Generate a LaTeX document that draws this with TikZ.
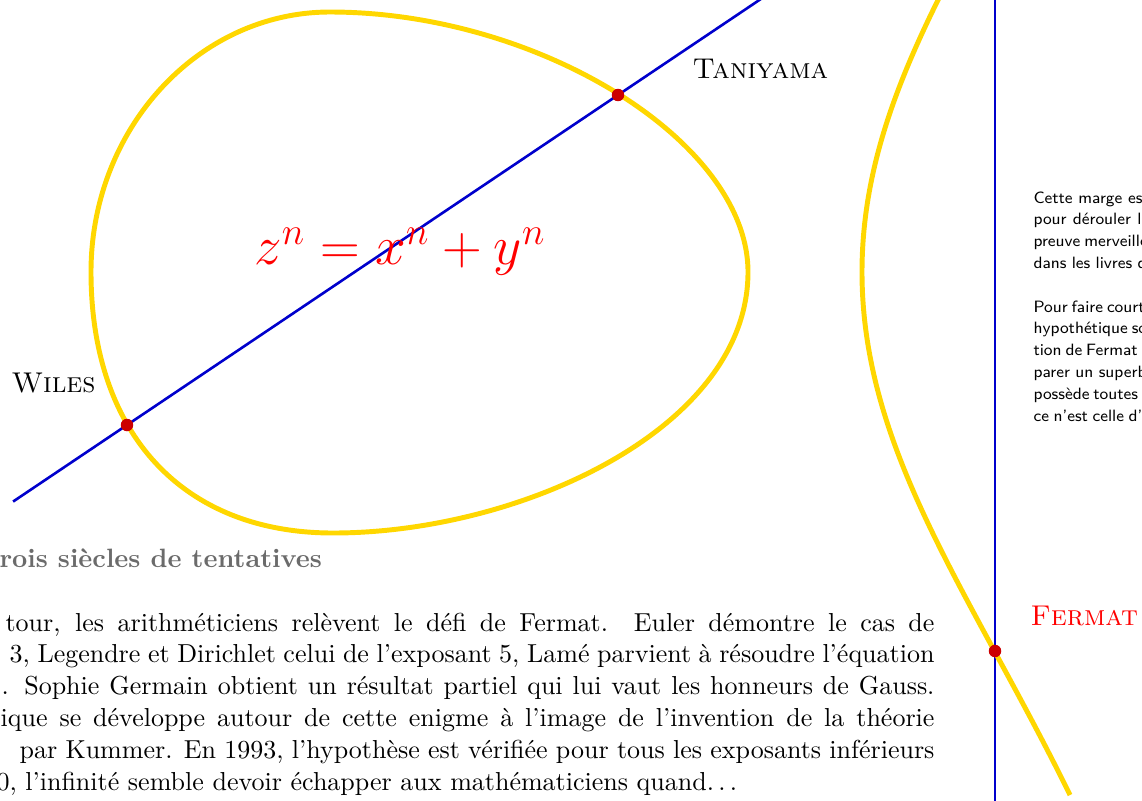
\documentclass[tikz,border=0pt]{standalone}
\usepackage{amsmath,amsfonts,amssymb}
\usepackage{tikz}
\usepackage{xcolor}
\usetikzlibrary{calc}

\definecolor{curvegold}{RGB}{255,215,0}
\definecolor{lineblue}{RGB}{0,0,204}
\definecolor{dotred}{RGB}{204,0,0}

\begin{document}
\begin{tikzpicture}[
    x=0.013517cm, y=-0.013517cm,
    curve/.style={draw=curvegold, line width=1.9pt},
    secant/.style={draw=lineblue, line width=1pt},
    hit/.style={circle, fill=dotred, inner sep=0pt, minimum size=4.8pt},
    who/.style={inner sep=0pt, anchor=base west, font=\fontsize{11}{13}\selectfont\scshape},
    body/.style={inner sep=0pt, anchor=base east, font=\fontsize{10}{12.2}\selectfont},
    marge/.style={inner sep=0pt, anchor=base west, font=\fontsize{6.3}{8.4}\selectfont\sffamily}
  ]
  \useasboundingbox (0,0) rectangle (1142,800);
  \clip (0,0) rectangle (1142,800);

  % points of the curve
  \coordinate (w) at (127,425);
  \coordinate (t) at (618,95);
  \coordinate (f) at (995,651);
  \coordinate (vtop) at (995,-5);
  \coordinate (vbot) at (995,805);

  % the two lines
  \draw[secant] ($(w)!-0.232!(t)$) -- ($(w)!1.4!(t)$);
  \draw[secant] (vtop) -- (vbot);

  % oval and branch
  \draw[curve] (91,272) .. controls (91,129) and (198,12) .. (330,12)
    .. controls (539,12) and (748,142) .. (748,272)
    .. controls (748,428.6) and (520,533) .. (333,533)
    .. controls (183,533) and (91,433.8) .. (91,272) -- cycle;
  \draw[curve] (1070,-251) .. controls (972,-51) and (862,92) .. (862,272)
    .. controls (862,452) and (972,595) .. (1070,795);

  \node[hit] (wiles) at (w) {};
  \node[hit] (taniyama) at (t) {};
  \node[hit] (fermat) at (f) {};

  % labels
  \node[who] (lt) at (692,78) {Taniyama};
  \node[who] (lw) at (11,392) {Wiles};
  \node[who, text=red] (lf) at (1030,625) {Fermat};
  \node[anchor=base, inner sep=0pt, text=red] (eq) at (400,264)
    {\scalebox{1.02}{\huge$z^n = x^n + y^n$}};

  % text below
  \node[inner sep=0pt, anchor=base west, text=black!58,
        font=\fontsize{10.2}{12}\selectfont\bfseries] (head) at (-1,567)
    {rois siècles de tentatives};
  \node[body] (p1) at (935,631)
    {\makebox[357.3pt][s]{tour, les arithméticiens relèvent le défi de Fermat.  Euler démontre le cas de}};
  \node[body] (p2) at (935,662.8)
    {\makebox[355.8pt][s]{3, Legendre et Dirichlet celui de l'exposant 5, Lamé parvient à résoudre l'équation}};
  \node[body] (p3) at (935,694.6)
    {\makebox[358.8pt][s]{. Sophie Germain obtient un résultat partiel qui lui vaut les honneurs de Gauss.}};
  \node[body] (p4) at (935,726.4)
    {\makebox[359.2pt][s]{ique se développe autour de cette enigme à l'image de l'invention de la théorie}};
  \node[body] (p5) at (935,758.2)
    {\makebox[351.9pt][s]{par Kummer. En 1993, l'hypothèse est vérifiée pour tous les exposants inférieurs}};
  \node[body, anchor=base west] (p6) at (-4,790)
    {0, l'infinité semble devoir échapper aux mathématiciens quand.\,.\,.};

  % the margin
  \node[marge] (m1) at (1033,203) {\makebox[41.9pt][s]{Cette marge es}};
  \node[marge] (m2) at (1033,224.8) {\makebox[41.5pt][s]{pour dérouler l}};
  \node[marge] (m3) at (1033,246.6) {\makebox[42.7pt][s]{preuve merveille}};
  \node[marge] (m4) at (1033,268.4) {\makebox[43.5pt][s]{dans les livres d}};
  \node[marge] (m5) at (1033,312) {\makebox[35pt][s]{Pour faire court}};
  \node[marge] (m6) at (1033,333.8) {\makebox[42.3pt][s]{hypothétique so}};
  \node[marge] (m7) at (1033,355.6) {\makebox[43.8pt][s]{tion de Fermat p}};
  \node[marge] (m8) at (1033,377.4) {\makebox[43.5pt][s]{parer un superb}};
  \node[marge] (m9) at (1033,399.2) {\makebox[37.3pt][s]{possède toutes}};
  \node[marge] (m10) at (1033,421) {\makebox[41.9pt][s]{ce n'est celle d'}};
\end{tikzpicture}
\end{document}
